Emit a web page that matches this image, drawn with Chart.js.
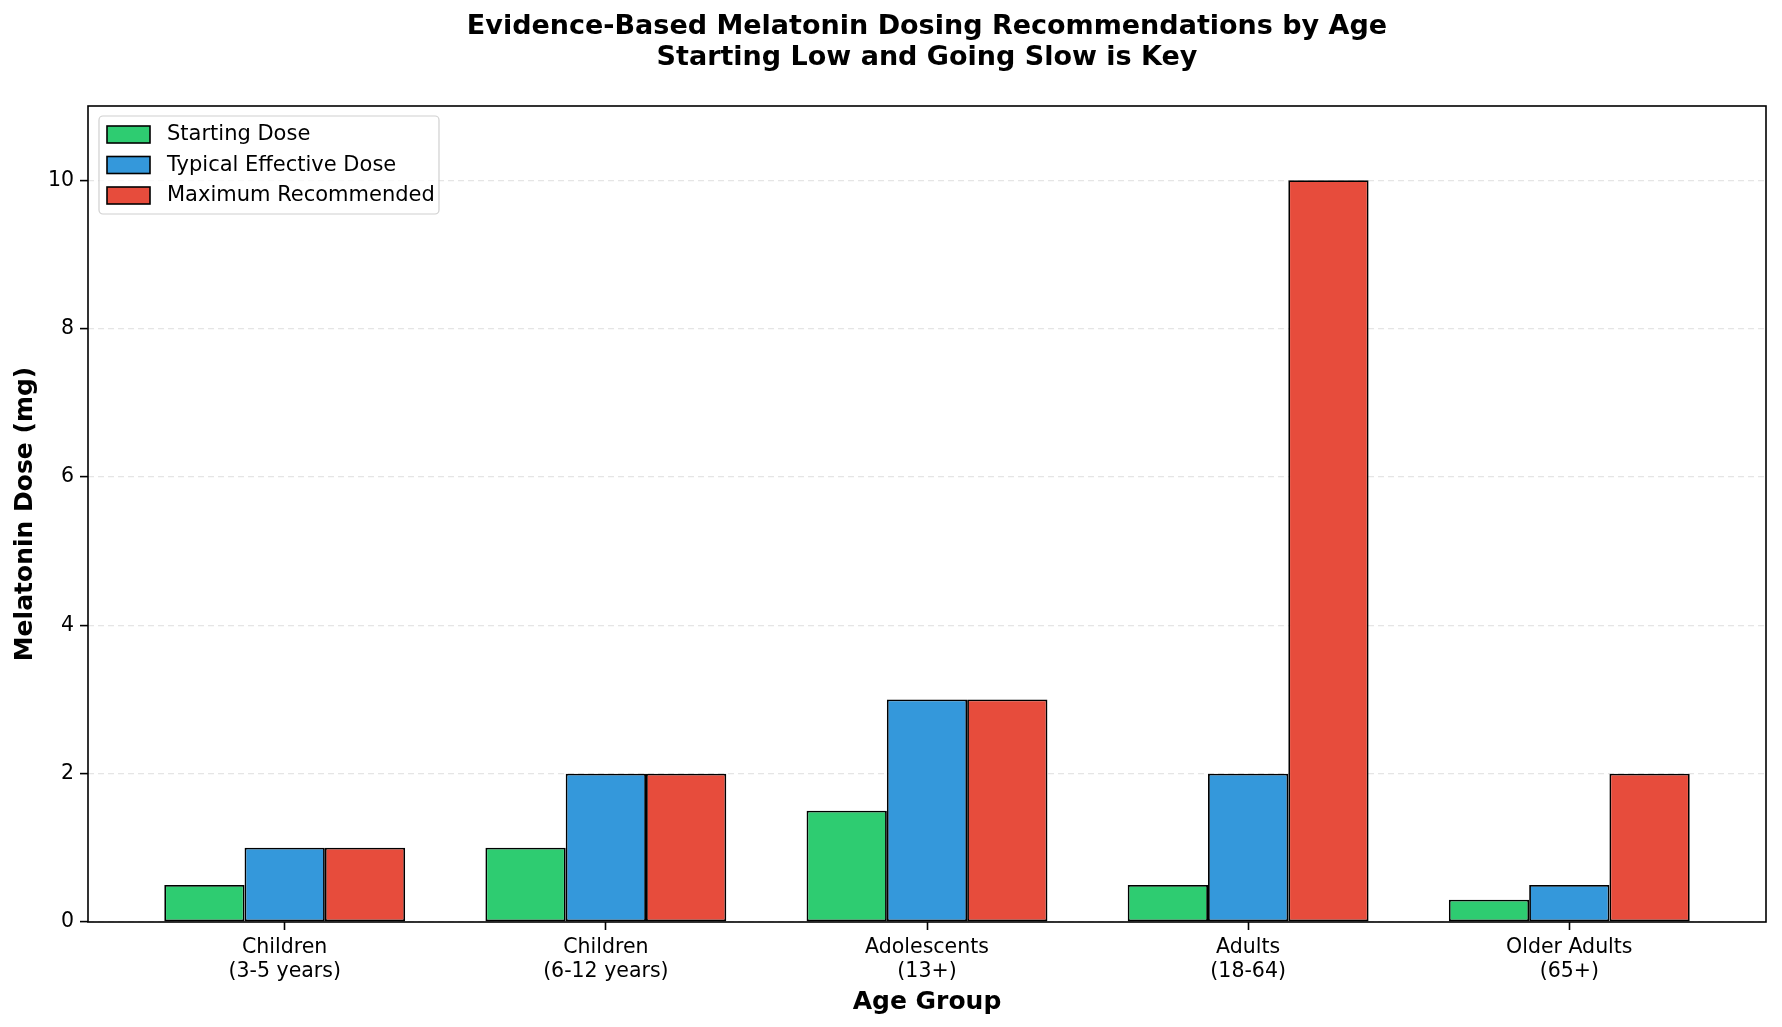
<!DOCTYPE html>
<html>
<head>
<meta charset="utf-8">
<script src="https://cdn.jsdelivr.net/npm/chart.js@4.4.1/dist/chart.umd.min.js"></script>
<style>
  html, body { margin: 0; padding: 0; background: #fff; }
  #wrap { width: 1782px; height: 1027px; }
</style>
</head>
<body>
<div id="wrap"><canvas id="chart" width="1782" height="1027"></canvas></div>
<script>
// データ
const ageGroups = [
    ['Children', '(3-5 years)'],
    ['Children', '(6-12 years)'],
    ['Adolescents', '(13+)'],
    ['Adults', '(18-64)'],
    ['Older Adults', '(65+)']
];
const startingDose = [0.5, 1, 1.5, 0.5, 0.3];
const typicalDose = [1, 2, 3, 2, 0.5];
const maxDose = [1, 2, 3, 10, 2];
const yTicks = [0, 2, 4, 6, 8, 10];
const seriesNames = ['Starting Dose', 'Typical Effective Dose', 'Maximum Recommended'];
const seriesColors = ['#2ecc71', '#3498db', '#e74c3c'];
const titleLines = ['Evidence-Based Melatonin Dosing Recommendations by Age', 'Starting Low and Going Slow is Key'];

const FONT = "'DejaVu Sans', sans-serif";

function toPoints(values) {
    return values.map((v, i) => ({ x: i, y: v }));
}

// タイトル・枠・凡例を描くプラグイン
const decorPlugin = {
    id: 'decor',
    afterDraw(chart) {
        const ctx = chart.ctx;
        const a = chart.chartArea;
        ctx.save();

        // タイトル
        ctx.fillStyle = '#000';
        ctx.font = 'bold 27px ' + FONT;
        ctx.textAlign = 'center';
        ctx.textBaseline = 'middle';
        const cx = (a.left + a.right) / 2;
        ctx.fillText(titleLines[0], cx, 27);
        ctx.fillText(titleLines[1], cx, 58);

        // 軸の枠
        ctx.strokeStyle = '#000';
        ctx.lineWidth = 1.6;
        ctx.strokeRect(a.left, a.top, a.right - a.left, a.bottom - a.top);

        // 凡例
        const lx = a.left + 11, ly = a.top + 10, lw = 340, lh = 98;
        ctx.beginPath();
        ctx.roundRect(lx, ly, lw, lh, 4);
        ctx.fillStyle = 'rgba(255,255,255,0.8)';
        ctx.fill();
        ctx.strokeStyle = '#d0d0d0';
        ctx.lineWidth = 1.2;
        ctx.stroke();

        ctx.font = '21px ' + FONT;
        ctx.textAlign = 'left';
        chart.data.datasets.forEach((ds, i) => {
            const cy = ly + 18 + i * 30.5;
            ctx.fillStyle = ds.backgroundColor;
            ctx.fillRect(lx + 8, cy - 8, 43, 17);
            ctx.strokeStyle = '#000';
            ctx.lineWidth = 1.6;
            ctx.strokeRect(lx + 8, cy - 8, 43, 17);
            ctx.fillStyle = '#000';
            ctx.fillText(ds.label, lx + 68, cy + 1);
        });
        ctx.restore();
    }
};

const datasets = [startingDose, typicalDose, maxDose].map((vals, i) => ({
    label: seriesNames[i],
    data: toPoints(vals),
    backgroundColor: seriesColors[i],
    borderColor: '#000',
    borderWidth: 1.8,
    borderSkipped: false,
    categoryPercentage: 0.75,
    barPercentage: 1.0
}));

new Chart(document.getElementById('chart'), {
    type: 'bar',
    data: { datasets: datasets },
    options: {
        responsive: false,
        animation: false,
        layout: { padding: { top: 106, right: 16, left: 0, bottom: 0 } },
        plugins: {
            legend: { display: false },
            title: { display: false },
            tooltip: { enabled: false }
        },
        scales: {
            x: {
                type: 'linear',
                offset: false,
                min: -0.6125,
                max: 4.6125,
                afterBuildTicks(scale) {
                    scale.ticks = ageGroups.map((g, i) => ({ value: i }));
                },
                afterFit(scale) { scale.height = 105; },
                ticks: {
                    autoSkip: false,
                    maxRotation: 0,
                    padding: 5,
                    color: '#000',
                    font: { family: FONT, size: 20.5, lineHeight: 1.2 },
                    callback: (v) => ageGroups[v]
                },
                grid: {
                    offset: false,
                    drawOnChartArea: false,
                    drawTicks: true,
                    tickLength: 8,
                    tickColor: '#000',
                    tickWidth: 1.6
                },
                border: { display: false },
                title: {
                    display: true,
                    text: 'Age Group',
                    color: '#000',
                    font: { family: FONT, size: 25, weight: 'bold', lineHeight: 1.2 },
                    padding: { top: 0, bottom: 10 }
                }
            },
            y: {
                min: 0,
                max: 11,
                afterBuildTicks(scale) {
                    scale.ticks = yTicks.map(v => ({ value: v }));
                },
                afterFit(scale) { scale.width = 88; },
                ticks: {
                    padding: 6,
                    color: '#000',
                    font: { family: FONT, size: 20.5 }
                },
                grid: {
                    color: 'rgba(180,180,180,0.35)',
                    lineWidth: 1.2,
                    tickLength: 8,
                    tickColor: '#000',
                    tickWidth: 1.6
                },
                border: { display: false, dash: [6, 4] },
                title: {
                    display: true,
                    text: 'Melatonin Dose (mg)',
                    color: '#000',
                    font: { family: FONT, size: 25, weight: 'bold', lineHeight: 1.2 },
                    padding: { top: 10, bottom: 0 }
                }
            }
        }
    },
    plugins: [decorPlugin]
});
</script>
</body>
</html>
